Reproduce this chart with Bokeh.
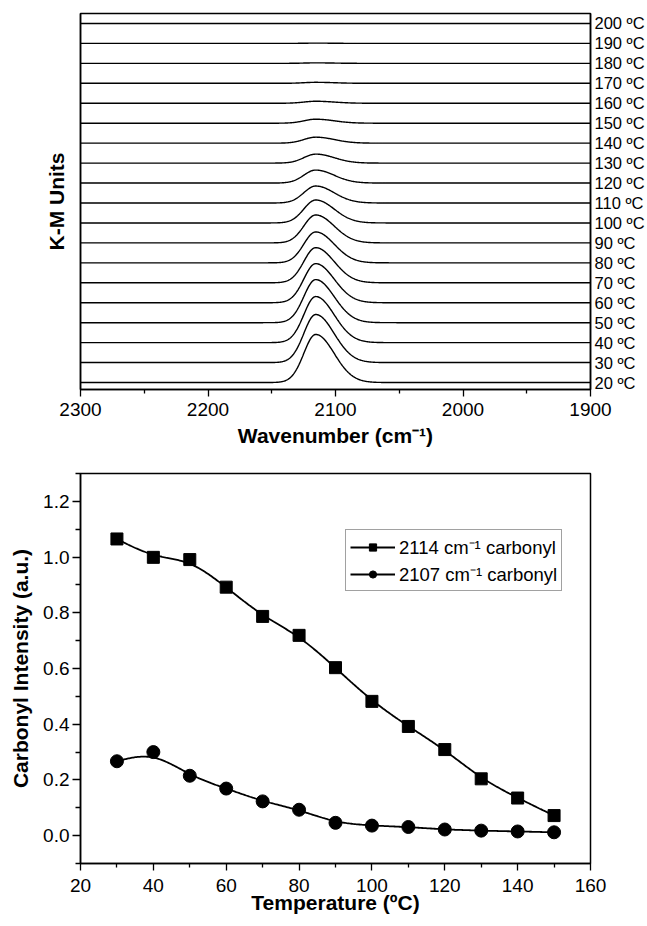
import numpy as np
from bokeh.plotting import figure
from bokeh.layouts import column
from bokeh.models import (Range1d, FixedTicker, LinearAxis, Legend, LegendItem,
                          PrintfTickFormatter)
from bokeh.embed import file_html
from bokeh.resources import INLINE

# ---------------- data ----------------
# DRIFTS spectra recorded on heating (K-M units), carbonyl band near 2114 cm-1
temperatures = [20, 30, 40, 50, 60, 70, 80, 90, 100, 110, 120, 130, 140, 150,
                160, 170, 180, 190, 200]
peak_height = [0.241, 0.241, 0.231, 0.216, 0.196, 0.176, 0.155, 0.140, 0.115,
               0.085, 0.065, 0.045, 0.030, 0.020, 0.010, 0.005, 0.0025, 0.0015, 0.0]
peak_centre = 2115.5          # cm-1
peak_hwhm_high = 11.0         # half width on the high-wavenumber side, cm-1
peak_hwhm_low = 17.0          # half width on the low-wavenumber side, cm-1
stack_offset = 0.1            # vertical offset between successive spectra
wn_ticks = [2300, 2200, 2100, 2000, 1900]
wn_minor = [2250, 2150, 2050, 1950]

# Integrated carbonyl band intensities vs temperature
temp_c = [30, 40, 50, 60, 70, 80, 90, 100, 110, 120, 130, 140, 150]
carbonyl_2114 = [1.065, 0.999, 0.991, 0.892, 0.787, 0.719, 0.603, 0.482, 0.392,
                 0.309, 0.204, 0.135, 0.072]
carbonyl_2107 = [0.267, 0.300, 0.215, 0.169, 0.123, 0.093, 0.046, 0.036, 0.031,
                 0.022, 0.018, 0.015, 0.012]
temp_ticks = [20, 40, 60, 80, 100, 120, 140, 160]
temp_minor = [30, 50, 70, 90, 110, 130, 150]
int_ticks = [0.0, 0.2, 0.4, 0.6, 0.8, 1.0, 1.2]
int_minor = [-0.1, 0.1, 0.3, 0.5, 0.7, 0.9, 1.1, 1.3]

FONT = "Liberation Sans"


def band(wn, height):
    """Asymmetric Gaussian band profile."""
    s_hi = peak_hwhm_high / np.sqrt(2 * np.log(2))
    s_lo = peak_hwhm_low / np.sqrt(2 * np.log(2))
    s = np.where(wn >= peak_centre, s_hi, s_lo)
    return height * np.exp(-0.5 * ((wn - peak_centre) / s) ** 2)


def bspline(xs, ys, n_per_seg=30):
    """Clamped uniform cubic B-spline using the data points as control points."""
    px = np.r_[xs[0], xs[0], xs, xs[-1], xs[-1]].astype(float)
    py = np.r_[ys[0], ys[0], ys, ys[-1], ys[-1]].astype(float)
    t = np.linspace(0, 1, n_per_seg)
    b0 = (1 - t) ** 3 / 6
    b1 = (3 * t ** 3 - 6 * t ** 2 + 4) / 6
    b2 = (-3 * t ** 3 + 3 * t ** 2 + 3 * t + 1) / 6
    b3 = t ** 3 / 6
    cx, cy = [], []
    for i in range(len(px) - 3):
        cx.append(b0 * px[i] + b1 * px[i + 1] + b2 * px[i + 2] + b3 * px[i + 3])
        cy.append(b0 * py[i] + b1 * py[i + 1] + b2 * py[i + 2] + b3 * py[i + 3])
    return np.concatenate(cx), np.concatenate(cy)


def style_axis(ax, size="19px"):
    ax.axis_line_color = "black"
    ax.axis_line_width = 1.5
    ax.major_tick_line_color = "black"
    ax.minor_tick_line_color = "black"
    ax.major_tick_line_width = 1.3
    ax.minor_tick_line_width = 1.3
    ax.major_label_text_font = FONT
    ax.major_label_text_font_size = size
    ax.major_label_text_color = "black"
    ax.axis_label_text_font = FONT
    ax.axis_label_text_font_size = "21px"
    ax.axis_label_text_font_style = "bold"
    ax.axis_label_text_color = "black"


# ---------------- stacked spectra ----------------
p1 = figure(width=647, height=460, output_backend="svg", toolbar_location=None,
            x_range=Range1d(2300, 1900),
            y_range=Range1d(-0.035, (len(temperatures) - 1) * stack_offset + 0.05),
            min_border_left=80, min_border_right=55, min_border_top=13,
            min_border_bottom=71)
p1.grid.visible = False
p1.outline_line_color = "black"
p1.outline_line_width = 1.5
p1.background_fill_color = "white"

wn = np.linspace(2300, 1900, 801)
for i, (t, hgt) in enumerate(zip(temperatures, peak_height)):
    p1.line(wn, i * stack_offset + band(wn, hgt), line_color="black", line_width=1.4)

style_axis(p1.xaxis[0])
p1.xaxis[0].ticker = FixedTicker(ticks=wn_ticks, minor_ticks=wn_minor)
p1.xaxis[0].major_tick_in = 0
p1.xaxis[0].major_tick_out = 7
p1.xaxis[0].minor_tick_in = 0
p1.xaxis[0].minor_tick_out = 4
p1.xaxis[0].major_label_standoff = 6
p1.xaxis[0].axis_label = "Wavenumber (cm\u207b\u00b9)"
p1.xaxis[0].axis_label_standoff = 5

style_axis(p1.yaxis[0])
p1.yaxis[0].ticker = FixedTicker(ticks=[])
p1.yaxis[0].major_tick_out = 0
p1.yaxis[0].minor_tick_out = 0
p1.yaxis[0].axis_label = "K-M Units"
p1.yaxis[0].axis_label_standoff = 13

temp_axis = LinearAxis(
    ticker=FixedTicker(ticks=[i * stack_offset for i in range(len(temperatures))]),
    major_label_overrides={i * stack_offset: f"{t} \u00baC"
                           for i, t in enumerate(temperatures)})
style_axis(temp_axis, "16.5px")
temp_axis.major_tick_out = 0
temp_axis.major_tick_in = 0
temp_axis.minor_tick_out = 0
temp_axis.major_label_standoff = 4
p1.add_layout(temp_axis, "right")

# ---------------- carbonyl intensities ----------------
p2 = figure(width=647, height=466, output_backend="svg", toolbar_location=None,
            x_range=Range1d(20, 160), y_range=Range1d(-0.1, 1.3),
            min_border_left=77, min_border_right=41, min_border_top=13,
            min_border_bottom=63)
p2.grid.visible = False
p2.outline_line_color = "black"
p2.outline_line_width = 1.5

sx1, sy1 = bspline(temp_c, carbonyl_2114)
l1 = p2.line(sx1, sy1, line_color="black", line_width=1.8)
m1 = p2.scatter(temp_c, carbonyl_2114, marker="square", size=12,
                fill_color="black", line_color="black")
sx2, sy2 = bspline(temp_c, carbonyl_2107)
l2 = p2.line(sx2, sy2, line_color="black", line_width=1.8)
m2 = p2.scatter(temp_c, carbonyl_2107, marker="circle", size=13,
                fill_color="black", line_color="black")

style_axis(p2.xaxis[0])
p2.xaxis[0].ticker = FixedTicker(ticks=temp_ticks, minor_ticks=temp_minor)
p2.xaxis[0].major_tick_in = 0
p2.xaxis[0].major_tick_out = 7
p2.xaxis[0].minor_tick_in = 0
p2.xaxis[0].minor_tick_out = 4
p2.xaxis[0].major_label_standoff = 8
p2.xaxis[0].axis_label = "Temperature (\u00baC)"
p2.xaxis[0].axis_label_standoff = -4

style_axis(p2.yaxis[0])
p2.yaxis[0].ticker = FixedTicker(ticks=int_ticks, minor_ticks=int_minor)
p2.yaxis[0].formatter = PrintfTickFormatter(format="%.1f")
p2.yaxis[0].major_tick_in = 0
p2.yaxis[0].major_tick_out = 8
p2.yaxis[0].minor_tick_in = 0
p2.yaxis[0].minor_tick_out = 5
p2.yaxis[0].major_label_standoff = 3
p2.yaxis[0].axis_label = "Carbonyl Intensity (a.u.)"
p2.yaxis[0].axis_label_standoff = 8

legend = Legend(items=[
    LegendItem(label="2114 cm\u207b\u00b9 carbonyl", renderers=[l1, m1]),
    LegendItem(label="2107 cm\u207b\u00b9 carbonyl", renderers=[l2, m2]),
], location=(265, 272))
legend.label_text_font = FONT
legend.label_text_font_size = "18.5px"
legend.label_text_color = "black"
legend.glyph_width = 45
legend.glyph_height = 18
legend.label_standoff = 4
legend.padding = 4
legend.spacing = 2
legend.margin = 0
legend.border_line_color = "#444444"
legend.border_line_width = 1
p2.add_layout(legend, "center")

layout = column(p1, p2, spacing=0)
open("out.html", "w").write(file_html(layout, INLINE))
